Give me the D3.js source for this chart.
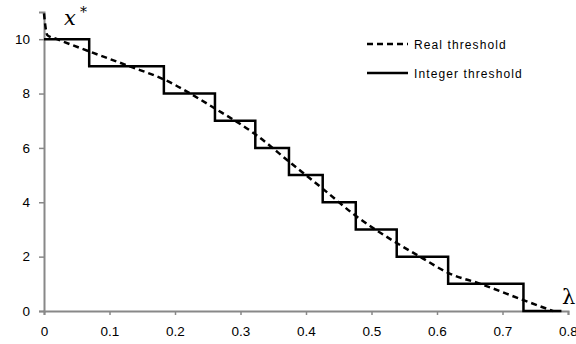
<!DOCTYPE html>
<html>
<head>
<meta charset="utf-8">
<script src="https://cdn.jsdelivr.net/npm/d3@7"></script>
<style>
  body { margin: 0; background: #fff; }
  svg { display: block; }
</style>
</head>
<body>
<script>
// Data
const realLambda = [0, 0.002, 0.005, 0.02, 0.069, 0.131, 0.183, 0.261, 0.3226, 0.374, 0.4255, 0.476, 0.5385, 0.574, 0.617, 0.666, 0.732, 0.777];
const realX = [10.95, 10.5, 10.15, 10.0, 9.55, 9.0, 8.52, 7.45, 6.5, 5.5, 4.5, 3.5, 2.5, 2.0, 1.4, 1.0, 0.4, 0];

const intBreaks = [0, 0.069, 0.183, 0.261, 0.3226, 0.374, 0.4255, 0.476, 0.5385, 0.617, 0.732, 0.79];
const intValues = [10, 9, 8, 7, 6, 5, 4, 3, 2, 1, 0];

const xTicks = [0, 0.1, 0.2, 0.3, 0.4, 0.5, 0.6, 0.7, 0.8];
const yTicks = [0, 2, 4, 6, 8, 10];
const legendLabels = ["Real threshold", "Integer threshold"];

const width = 576, height = 344;
const margin = { left: 44, right: 8, top: 12, bottom: 33 };

const svg = d3.select("body").append("svg")
  .attr("width", width)
  .attr("height", height);

const x = d3.scaleLinear().domain([0, 0.8]).range([margin.left, width - margin.right]);
const y = d3.scaleLinear().domain([0, 11]).range([height - margin.bottom, margin.top]);

const font = "'Liberation Sans', Arial, sans-serif";
const axisColor = "#888";

// axes
const xAxis = svg.append("g")
  .attr("transform", `translate(0,${y(0)})`)
  .call(d3.axisBottom(x).tickValues(xTicks).tickSize(4).tickFormat(d => d === 0 ? "0" : d3.format(".1f")(d)));
const yAxis = svg.append("g")
  .attr("transform", `translate(${x(0)},0)`)
  .call(d3.axisLeft(y).tickValues(yTicks).tickSize(5).tickFormat(d3.format("d")));

[xAxis, yAxis].forEach(g => {
  g.select(".domain").attr("stroke", axisColor).attr("stroke-width", 2);
  g.selectAll(".tick line").attr("stroke", axisColor).attr("stroke-width", 1.5);
  g.selectAll(".tick text").attr("fill", "#000").style("font-family", font).style("font-size", "13.5px");
});
xAxis.selectAll(".tick text").attr("y", 25).attr("dy", 0);
yAxis.selectAll(".tick text").attr("x", -14);

// integer threshold step line
const stepPts = [];
intValues.forEach((v, i) => {
  stepPts.push([intBreaks[i], v]);
  stepPts.push([intBreaks[i + 1], v]);
});
const line = d3.line().x(d => x(d[0])).y(d => y(d[1]));

svg.append("path")
  .datum(stepPts)
  .attr("d", line)
  .attr("fill", "none")
  .attr("stroke", "#000")
  .attr("stroke-width", 2.5);

// real threshold dashed curve
svg.append("path")
  .datum(realLambda.map((l, i) => [l, realX[i]]))
  .attr("d", line.curve(d3.curveMonotoneX))
  .attr("fill", "none")
  .attr("stroke", "#000")
  .attr("stroke-width", 2.5)
  .attr("stroke-dasharray", "6,4");

// axis titles
svg.append("text")
  .attr("x", 64).attr("y", 25)
  .style("font-family", "'DejaVu Serif', serif")
  .style("font-style", "italic")
  .style("font-size", "21px")
  .text("x");
svg.append("text")
  .attr("x", 80).attr("y", 17)
  .style("font-family", "'DejaVu Serif', serif")
  .style("font-size", "14px")
  .text("*");
svg.append("text")
  .attr("x", 562).attr("y", 304)
  .style("font-family", "'DejaVu Serif', serif")
  .style("font-size", "21px")
  .text("λ");

// legend
const legend = svg.append("g");
legendLabels.forEach((lab, i) => {
  const ly = 44 + i * 29;
  legend.append("line")
    .attr("x1", 367).attr("x2", 408)
    .attr("y1", ly).attr("y2", ly)
    .attr("stroke", "#000")
    .attr("stroke-width", 2.5)
    .attr("stroke-dasharray", i === 0 ? "6,4" : null);
  legend.append("text")
    .attr("x", 414).attr("y", ly + 4.5)
    .style("font-family", font)
    .style("font-size", "12px")
    .style("letter-spacing", "1.1px")
    .text(lab);
});
</script>
</body>
</html>
